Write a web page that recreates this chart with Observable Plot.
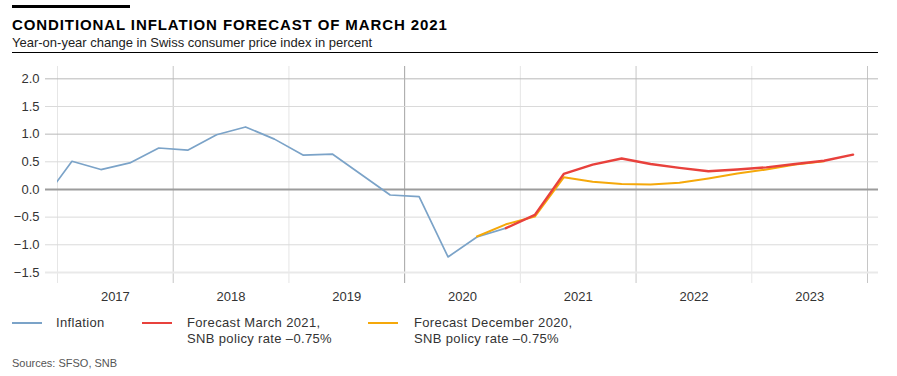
<!DOCTYPE html>
<html><head><meta charset="utf-8">
<script src="https://cdn.jsdelivr.net/npm/d3@7"></script>
<script src="https://cdn.jsdelivr.net/npm/@observablehq/plot@0.6"></script>
<style>
body{margin:0;background:#fff;font-family:"Liberation Sans",Arial,sans-serif;}
#wrap{position:relative;width:897px;height:376px;overflow:hidden;background:#fff;}
.abs{position:absolute;white-space:nowrap;}
#chart{position:absolute;left:0;top:56px;}
.leg{font-size:13px;line-height:15.6px;color:#333;letter-spacing:0.35px;}
.sw{position:absolute;height:2px;width:30px;}
</style></head><body>
<div id="wrap">
  <div class="abs" style="left:12px;top:5px;width:118px;height:3px;background:#000"></div>
  <div class="abs" style="left:12px;top:17.3px;font-size:15px;line-height:15px;font-weight:bold;color:#000;letter-spacing:0.9px">CONDITIONAL INFLATION FORECAST OF MARCH 2021</div>
  <div class="abs" style="left:12px;top:36px;font-size:13px;line-height:13px;color:#222">Year-on-year change in Swiss consumer price index in percent</div>
  <div class="abs" style="left:12px;top:51.5px;width:866px;height:1.5px;background:#000"></div>
  <div id="chart"></div>
  <div class="sw" style="left:12px;top:321.5px;background:#7ba3c8"></div>
  <div class="abs leg" style="left:56px;top:315.4px">Inflation</div>
  <div class="sw" style="left:142px;top:321.5px;background:#e8413c"></div>
  <div class="abs leg" style="left:187px;top:315.4px">Forecast March 2021,<br>SNB policy rate –0.75%</div>
  <div class="sw" style="left:368px;top:321.5px;background:#f5a80a"></div>
  <div class="abs leg" style="left:414px;top:315.4px">Forecast December 2020,<br>SNB policy rate –0.75%</div>
  <div class="abs" style="left:12px;top:357.7px;font-size:11px;line-height:11px;color:#555">Sources: SFSO, SNB</div>
</div>
<script>
// ---- data ----
const inflationQuarters = ["2016Q4","2017Q1","2017Q2","2017Q3","2017Q4","2018Q1","2018Q2","2018Q3","2018Q4","2019Q1","2019Q2","2019Q3","2019Q4","2020Q1","2020Q2","2020Q3","2020Q4"];
const inflationValues = [-0.2, 0.51, 0.36, 0.48, 0.75, 0.71, 0.99, 1.13, 0.91, 0.62, 0.64, 0.27, -0.10, -0.13, -1.22, -0.86, -0.70];

const marchQuarters = ["2020Q4","2021Q1","2021Q2","2021Q3","2021Q4","2022Q1","2022Q2","2022Q3","2022Q4","2023Q1","2023Q2","2023Q3","2023Q4"];
const marchValues = [-0.70, -0.46, 0.28, 0.45, 0.56, 0.46, 0.39, 0.33, 0.36, 0.40, 0.46, 0.52, 0.63];

const decemberQuarters = ["2020Q3","2020Q4","2021Q1","2021Q2","2021Q3","2021Q4","2022Q1","2022Q2","2022Q3","2022Q4","2023Q1","2023Q2","2023Q3"];
const decemberValues = [-0.85, -0.63, -0.49, 0.22, 0.14, 0.10, 0.09, 0.12, 0.20, 0.29, 0.36, 0.45, 0.51];

const yearLabels = [2017, 2018, 2019, 2020, 2021, 2022, 2023];
const yearBoundaries = [2017, 2018, 2019, 2020, 2021, 2022, 2023, 2024];
const yTicks = [-1.5, -1.0, -0.5, 0.0, 0.5, 1.0, 1.5, 2.0];

// ---- build ----
const qx = s => +s.slice(0,4) + (+s.slice(5) - 0.5) / 4;
const toRows = (qs, vs) => qs.map((q, i) => ({x: qx(q), y: vs[i]}));
const inflation = toRows(inflationQuarters, inflationValues);
const march = toRows(marchQuarters, marchValues);
const december = toRows(decemberQuarters, decemberValues);

const vColor = d => d === 2020 ? "#a3a3a3" : (d % 2 === 0 ? "#c6c6c6" : "#e6e6e6");
const hColor = d => d === 0 ? "#9c9c9c" : (d === 1 || d === 2) ? "#b8b8b8" : d === -1.5 ? "#e9e9e9" : "#dadada";
const hWidth = d => (d === 0 || d === -1.5) ? 2 : 1;
const fmt = d => d.toFixed(1).replace("-", "\u2212");

const chart = Plot.plot({
  width: 897,
  height: 250,
  marginTop: 10,
  marginBottom: 23,
  marginLeft: 57,
  marginRight: 30,
  style: {fontFamily: "'Liberation Sans', Arial, sans-serif", fontSize: "13px", color: "#333", background: "transparent"},
  x: {domain: [2017, 2024], axis: null},
  y: {domain: [-1.7, 2.223], axis: null},
  marks: [
    Plot.ruleX(yearBoundaries, {x: d => d, stroke: vColor, strokeWidth: 1}),
    Plot.ruleY(yTicks, {y: d => d, stroke: hColor, strokeWidth: hWidth, insetLeft: -12, insetRight: -11}),
    Plot.axisY(yTicks, {tickSize: 0, tickPadding: 18, tickFormat: fmt, fill: "#333", fontSize: 13, label: null}),
    Plot.axisX(yearLabels.map(d => d + 0.5), {tickSize: 0, tickPadding: 8, tickFormat: d => String(d - 0.5), fill: "#333", fontSize: 13, label: null}),
    Plot.line(inflation, {x: "x", y: "y", stroke: "#7ba3c8", strokeWidth: 1.7, clip: true}),
    Plot.line(december, {x: "x", y: "y", stroke: "#f5a80a", strokeWidth: 2, clip: true}),
    Plot.line(march, {x: "x", y: "y", stroke: "#e8413c", strokeWidth: 2.4, clip: true})
  ]
});
document.getElementById("chart").appendChild(chart);
</script>
</body></html>
